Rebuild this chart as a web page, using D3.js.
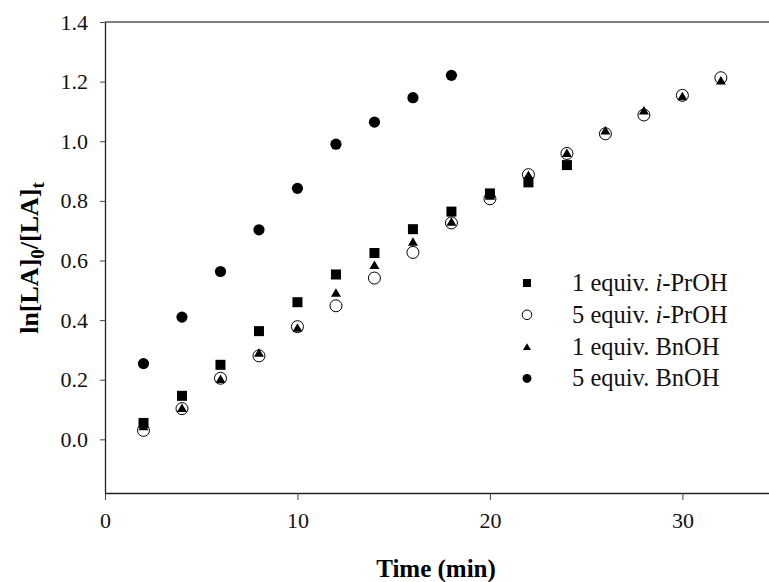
<!DOCTYPE html>
<html>
<head>
<meta charset="utf-8">
<script src="https://cdn.jsdelivr.net/npm/d3@7"></script>
<style>
  body { margin: 0; background: #fff; }
  text { font-family: "Liberation Serif", "Times New Roman", serif; }
</style>
</head>
<body>
<script>
// time points (min)
var times = [2, 4, 6, 8, 10, 12, 14, 16, 18, 20, 22, 24, 26, 28, 30, 32];

// ln[LA]0/[LA]t
var iprOne  = [0.055, 0.146, 0.250, 0.363, 0.460, 0.553, 0.625, 0.705, 0.764, 0.825, 0.862, 0.920];
var iprFive = [0.030, 0.103, 0.205, 0.280, 0.378, 0.448, 0.541, 0.627, 0.726, 0.807, 0.888, 0.959, 1.025, 1.088, 1.154, 1.213];
var bnOne   = [0.045, 0.106, 0.203, 0.291, 0.375, 0.493, 0.586, 0.664, 0.731, 0.818, 0.888, 0.961, 1.037, 1.104, 1.152, 1.205];
var bnFive  = [0.254, 0.410, 0.563, 0.703, 0.842, 0.990, 1.064, 1.146, 1.221];

var xTicks = [0, 10, 20, 30];
var yTicks = [0, 0.2, 0.4, 0.6, 0.8, 1.0, 1.2, 1.4];

var series = [
  {name: "5 equiv. ", it: "i", rest: "-PrOH", vals: iprFive, shape: "ocircle", legendRow: 1},
  {name: "1 equiv. ", it: "", rest: "BnOH", vals: bnOne, shape: "triangle", legendRow: 2},
  {name: "1 equiv. ", it: "i", rest: "-PrOH", vals: iprOne, shape: "square", legendRow: 0},
  {name: "5 equiv. ", it: "", rest: "BnOH", vals: bnFive, shape: "circle", legendRow: 3}
];

var W = 769, H = 582;
var svg = d3.select("body").append("svg").attr("width", W).attr("height", H);

var x = d3.scaleLinear().domain([0, 34.5]).range([105, 769]);
var y = d3.scaleLinear().domain([-0.18, 1.4]).range([493, 22]);

// frame top line
svg.append("line")
  .attr("x1", x(0)).attr("x2", W).attr("y1", y(1.4)).attr("y2", y(1.4))
  .attr("stroke", "#555").attr("stroke-width", 1.3);

var xAxis = svg.append("g").attr("transform", "translate(0," + y(-0.18) + ")")
  .call(d3.axisBottom(x).tickValues(xTicks).tickSize(7).tickPadding(12).tickSizeOuter(0));
var yAxis = svg.append("g").attr("transform", "translate(" + x(0) + ",0)")
  .call(d3.axisLeft(y).tickValues(yTicks).tickFormat(d3.format(".1f")).tickSize(5).tickPadding(12).tickSizeOuter(0));

[xAxis, yAxis].forEach(function(g){
  g.attr("font-family", null);
  g.select(".domain").attr("stroke", "#222").attr("stroke-width", 1.3);
  g.selectAll(".tick line").attr("stroke", "#444");
  g.selectAll("text").attr("font-size", 22).attr("fill", "#111")
    .style("font-family", "'Liberation Serif', serif");
});

function drawMark(g, shape, cx, cy, s) {
  if (shape === "square") {
    g.append("rect").attr("x", cx - s/2).attr("y", cy - s/2)
      .attr("width", s).attr("height", s).attr("fill", "#000");
  } else if (shape === "circle") {
    g.append("circle").attr("cx", cx).attr("cy", cy).attr("r", s * 0.56).attr("fill", "#000");
  } else if (shape === "ocircle") {
    g.append("circle").attr("cx", cx).attr("cy", cy).attr("r", s * 0.6)
      .attr("fill", "#fff").attr("stroke", "#000").attr("stroke-width", 1);
  } else {
    var h = s * 0.85, w = s * 0.5;
    g.append("path")
      .attr("d", "M" + cx + "," + (cy - h/2) + "L" + (cx + w) + "," + (cy + h/2) + "L" + (cx - w) + "," + (cy + h/2) + "Z")
      .attr("fill", "#000");
  }
}

var marks = svg.append("g");
series.forEach(function(s){
  s.vals.forEach(function(v, i){
    drawMark(marks, s.shape, x(times[i]), y(v), 10);
  });
});

// legend
var legend = svg.append("g");
var rows = series.slice().sort(function(a, b){ return a.legendRow - b.legendRow; });
rows.forEach(function(s, i){
  var ly = 283 + i * 31.8;
  drawMark(legend, s.shape, 527, ly, 8);
  var t = legend.append("text").attr("x", 572).attr("y", ly + 8)
    .attr("font-size", 24.5).attr("fill", "#111");
  t.append("tspan").text(s.name);
  if (s.it) t.append("tspan").attr("font-style", "italic").text(s.it);
  t.append("tspan").text(s.rest);
});

// axis titles
svg.append("text")
  .attr("x", 436).attr("y", 577)
  .attr("text-anchor", "middle").attr("font-size", 25).attr("font-weight", "bold")
  .text("Time (min)");

var yt = svg.append("text")
  .attr("transform", "translate(38,258) rotate(-90)")
  .attr("text-anchor", "middle").attr("font-size", 26).attr("font-weight", "bold");
yt.append("tspan").text("ln[LA]");
yt.append("tspan").attr("font-size", 19).attr("dy", 6).text("0");
yt.append("tspan").attr("dy", -6).text("/[LA]");
yt.append("tspan").attr("font-size", 19).attr("dy", 6).text("t");
</script>
</body>
</html>
